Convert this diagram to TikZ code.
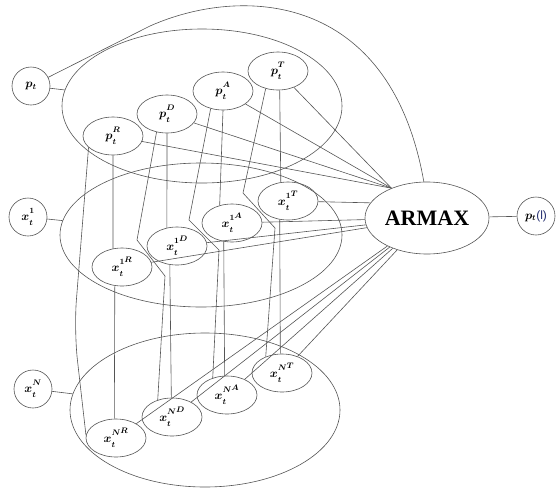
\documentclass[tikz,border=0pt]{standalone}
\usepackage{fontspec}
\setmainfont{Liberation Serif}
\setsansfont{Liberation Sans}
\usetikzlibrary{shapes.geometric}
\definecolor{ln}{RGB}{85,85,85}
\definecolor{paren}{RGB}{35,45,110}
\newcommand{\upsup}[1]{\raisebox{2.6pt}{$\scriptstyle #1$}}
\newcommand{\hiup}[1]{\raisebox{4.6pt}{$\scriptstyle #1$}}
\newcommand{\lowsub}[1]{\raisebox{-1.8pt}{$\scriptstyle #1$}}
\begin{document}
\begin{tikzpicture}[x=1pt,y=-1pt,
  lnk/.style={draw=ln, line width=0.6pt},
  sm/.style={ellipse, lnk, inner sep=0pt, minimum width=60pt, minimum height=38pt, font=\fontsize{12}{14}\selectfont\boldmath},
  cir/.style={circle, lnk, inner sep=0pt, minimum size=38pt, font=\fontsize{12}{14}\selectfont\boldmath},
  big/.style={ellipse, lnk, inner sep=0pt}]
\useasboundingbox (0,0) rectangle (557,488);
% top group
\node[cir] (pt) at (31,86) {$p_t$};
\node[big, minimum width=280pt, minimum height=154pt] (P) at (202,106) {};
\node[sm] (pR) at (113,136) {$p^{\upsup{R}}_{\lowsub{t}}$};
\node[sm] (pD) at (167,114) {$p^{\upsup{D}}_{\lowsub{t}}$};
\node[sm] (pA) at (223,91) {$p^{\upsup{A}}_{\lowsub{t}}$};
\node[sm] (pT) at (278,71) {$p^{\upsup{T}}_{\lowsub{t}}$};
% middle group
\node[cir] (x1) at (28,217) {$x^{\upsup{1}}_{\lowsub{t}}$};
\node[big, minimum width=282pt, minimum height=144pt] (X1) at (201,235) {};
\node[sm] (x1R) at (122,267) {$x^{\upsup{1}\hiup{R}}_{\lowsub{t}}$};
\node[sm] (x1D) at (177,246) {$x^{\upsup{1}\hiup{D}}_{\lowsub{t}}$};
\node[sm] (x1A) at (232,223) {$x^{\upsup{1}\hiup{A}}_{\lowsub{t}}$};
\node[sm] (x1T) at (288,201) {$x^{\upsup{1}\hiup{T}}_{\lowsub{t}}$};
% bottom group
\node[cir] (xN) at (33,389) {$x^{\upsup{N}}_{\lowsub{t}}$};
\node[big, minimum width=270pt, minimum height=154pt] (XN) at (205,410) {};
\node[sm] (xNR) at (116,438) {$x^{\upsup{N}\hiup{R}}_{\lowsub{t}}$};
\node[sm] (xND) at (172,417) {$x^{\upsup{N}\hiup{D}}_{\lowsub{t}}$};
\node[sm] (xNA) at (227,395) {$x^{\upsup{N}\hiup{A}}_{\lowsub{t}}$};
\node[sm] (xNT) at (282,373) {$x^{\upsup{N}\hiup{T}}_{\lowsub{t}}$};
% ARMAX and output
\node[ellipse, lnk, inner sep=0pt, minimum width=124pt, minimum height=72pt, font=\fontsize{22}{24}\selectfont\bfseries] (armax) at (427,218) {ARMAX};
\node[cir] (out) at (536,216) {$p_t$\textsf{\color{paren}(l)}};
% group links
\draw[lnk] (pt) -- (P);
\draw[lnk] (x1) -- (X1);
\draw[lnk] (xN) -- (XN);
\draw[lnk] (pt) -- (150,26) .. controls (240,-14) and (390,-10) .. (armax.95);
\draw[lnk] (armax) -- (out);
% column R
\draw[lnk] (pR.south) -- (x1R.116);
\draw[lnk] (x1R.-111) -- (xNR.95);
\draw[lnk, rounded corners=30pt] (pR.-155) -- (74,330) -- (xNR.175);
% column D
\draw[lnk] (pD.south) -- (x1D.119);
\draw[lnk] (x1D.-111) -- (xND.92);
\draw[lnk] (pD.-120) -- (137,240) -- (165,276) -- (xND.130);
% column A
\draw[lnk] (pA.south) -- (x1A.125);
\draw[lnk] (x1A.-114) -- (xNA.97);
\draw[lnk] (pA.-125) -- (189,220) -- (219,250) -- (xNA.130);
% column T
\draw[lnk] (pT.-85) -- (x1T.111);
\draw[lnk] (x1T.-114) -- (xNT.95);
\draw[lnk] (pT.-125) -- (243,193) -- (275,228) -- (xNT.135);
% to ARMAX
\draw[lnk] (pR) -- (armax.140);
\draw[lnk] (pD) -- (armax.140);
\draw[lnk] (pA) -- (armax.140);
\draw[lnk] (pT) -- (armax.140);
\draw[lnk] (x1R) -- (armax);
\draw[lnk] (x1D) -- (armax);
\draw[lnk] (x1A) -- (armax);
\draw[lnk] (x1T) -- (armax.165);
\draw[lnk] (xNR) -- (armax);
\draw[lnk] (xND) -- (armax);
\draw[lnk] (xNA) -- (armax);
\draw[lnk] (xNT) -- (armax);
\end{tikzpicture}
\end{document}
